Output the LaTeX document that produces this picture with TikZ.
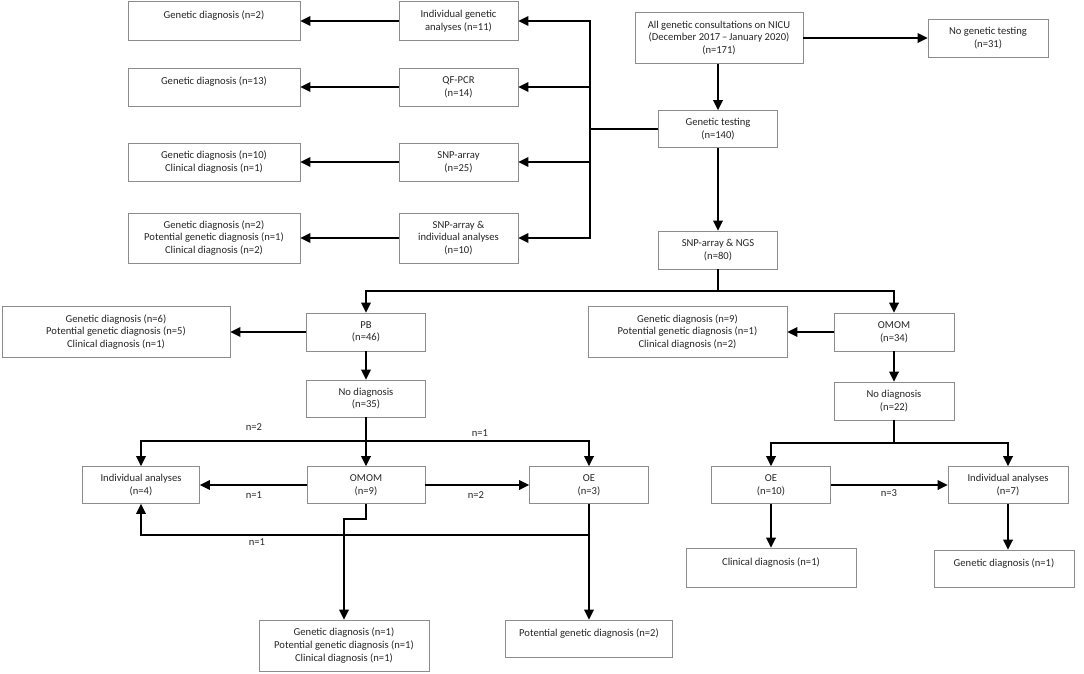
\documentclass[tikz,border=0pt]{standalone}
\usepackage{fontspec}
\setmainfont{Carlito}
\usetikzlibrary{arrows.meta}
\begin{document}
\begin{tikzpicture}[x=1pt,y=-1pt,
  box/.style={draw=black!45, line width=0.7pt, fill=white, align=center, inner sep=0pt, text=black!85, font=\fontsize{10.6}{12.6}\selectfont},
  conn/.style={line width=2pt, black},
  arr/.style={conn, -{Triangle[length=10pt,width=9.5pt]}},
  lbl/.style={font=\fontsize{10.6}{12}\selectfont, inner sep=0pt, text=black!85}]
\useasboundingbox (0,0) rectangle (1084,673);
% top section
\node[box, minimum width=172, minimum height=39] (gd2) at (214,21) {Genetic diagnosis (n=2)\\~};
\node[box, minimum width=119, minimum height=39] (ind11) at (458.5,21) {Individual genetic\\analyses (n=11)};
\node[box, minimum width=172, minimum height=38] (gd13) at (214,87) {Genetic diagnosis (n=13)\\~};
\node[box, minimum width=119, minimum height=38] (qf) at (458.5,87) {QF-PCR\\(n=14)};
\node[box, minimum width=172, minimum height=38] (gd10) at (214,162) {Genetic diagnosis (n=10)\\Clinical diagnosis (n=1)};
\node[box, minimum width=119, minimum height=38] (snp25) at (458.5,162) {SNP-array\\(n=25)};
\node[box, minimum width=172, minimum height=50] (gd2b) at (214,238) {Genetic diagnosis (n=2)\\Potential genetic diagnosis (n=1)\\Clinical diagnosis (n=2)};
\node[box, minimum width=119, minimum height=50] (snpind) at (458.5,238) {SNP-array \&\\individual analyses\\(n=10)};
\node[box, minimum width=168, minimum height=51] (all) at (719,38) {All genetic consultations on NICU\\(December 2017\,–\,January 2020)\\(n=171)};
\node[box, minimum width=120, minimum height=38] (nogt) at (988,38) {No genetic testing\\(n=31)};
\node[box, minimum width=119, minimum height=37] (gt) at (718,129) {Genetic testing\\(n=140)};
\node[box, minimum width=119, minimum height=38] (ngs) at (718,250) {SNP-array \& NGS\\(n=80)};
\draw[arr] (all.east) -- (all.east -| nogt.west);
\draw[arr] (all.south -| gt.north) -- (gt.north);
\draw[arr] (gt.south) -- (ngs.north);
\coordinate (bus) at (590,129);
\draw[conn] (gt.west) -- (bus);
\draw[arr] (bus) |- (ind11.east);
\draw[arr] (bus) |- (qf.east);
\draw[arr] (bus) |- (snp25.east);
\draw[arr] (bus) |- (snpind.east);
\draw[arr] (ind11.west) -- (gd2.east);
\draw[arr] (qf.west) -- (gd13.east);
\draw[arr] (snp25.west) -- (gd10.east);
\draw[arr] (snpind.west) -- (gd2b.east);
% middle section
\node[box, minimum width=228, minimum height=51] (pbdiag) at (116,332) {Genetic diagnosis (n=6)\\Potential genetic diagnosis (n=5)\\Clinical diagnosis (n=1)};
\node[box, minimum width=119, minimum height=38] (pb) at (366,332) {PB\\(n=46)};
\node[box, minimum width=119, minimum height=37] (nd35) at (366,398.5) {No diagnosis\\(n=35)};
\node[box, minimum width=199, minimum height=51] (omdiag) at (687.5,332) {Genetic diagnosis (n=9)\\Potential genetic diagnosis (n=1)\\Clinical diagnosis (n=2)};
\node[box, minimum width=120, minimum height=38] (om34) at (894,332) {OMOM\\(n=34)};
\node[box, minimum width=120, minimum height=38] (nd22) at (894,401) {No diagnosis\\(n=22)};
\coordinate (split1) at (718,291);
\draw[conn] (ngs.south) -- (split1);
\draw[arr] (split1) -| (pb.north);
\draw[arr] (split1) -| (om34.north);
\draw[arr] (pb.west) -- (pbdiag.east);
\draw[arr] (pb.south) -- (nd35.north);
\draw[arr] (om34.west) -- (omdiag.east);
\draw[arr] (om34.south) -- (nd22.north);
% bottom left
\node[box, minimum width=117, minimum height=37] (ia4) at (141,485) {Individual analyses\\(n=4)};
\node[box, minimum width=118, minimum height=37] (om9) at (366,485) {OMOM\\(n=9)};
\node[box, minimum width=119, minimum height=37] (oe3) at (589,485) {OE\\(n=3)};
\node[box, minimum width=170, minimum height=51] (bd1) at (344,645.5) {Genetic diagnosis (n=1)\\Potential genetic diagnosis (n=1)\\Clinical diagnosis (n=1)};
\node[box, minimum width=167, minimum height=37] (pot2) at (589,638.5) {Potential genetic diagnosis (n=2)\\~};
\coordinate (split2) at (366,441);
\draw[conn] (nd35.south) -- (split2);
\draw[arr] (split2) -- (om9.north);
\draw[arr] (split2) -| (ia4.north);
\draw[arr] (split2) -| (oe3.north);
\draw[arr] (om9.west) -- (ia4.east);
\draw[arr] (om9.east) -- (oe3.west);
\coordinate (omstep) at (366,519);
\draw[arr] (om9.south) -- (omstep) -| (bd1.north);
\draw[arr] (oe3.south) -- (pot2.north);
\coordinate (loop) at (589,535);
\draw[arr] (loop) -| (ia4.south);
\node[lbl] (l1) at (254,427) {n=2};
\node[lbl] (l2) at (480,433) {n=1};
\node[lbl] (l3) at (254,495) {n=1};
\node[lbl] (l4) at (476,495) {n=2};
\node[lbl] (l5) at (257,542) {n=1};
% bottom right
\node[box, minimum width=119, minimum height=37] (oe10) at (771,485) {OE\\(n=10)};
\node[box, minimum width=120, minimum height=37] (ia7) at (1008,485) {Individual analyses\\(n=7)};
\node[box, minimum width=170, minimum height=39] (cd1) at (771,567.5) {Clinical diagnosis (n=1)\\~};
\node[box, minimum width=140, minimum height=37] (gd1) at (1004,568.5) {Genetic diagnosis (n=1)\\~};
\coordinate (split3) at (894,443);
\draw[conn] (nd22.south) -- (split3);
\draw[arr] (split3) -| (oe10.north);
\draw[arr] (split3) -| (ia7.north);
\draw[arr] (oe10.east) -- (ia7.west);
\draw[arr] (oe10.south) -- (cd1.north);
\draw[arr] (ia7.south) -- (ia7.south |- gd1.north);
\node[lbl] (l6) at (889,493) {n=3};
\end{tikzpicture}
\end{document}
